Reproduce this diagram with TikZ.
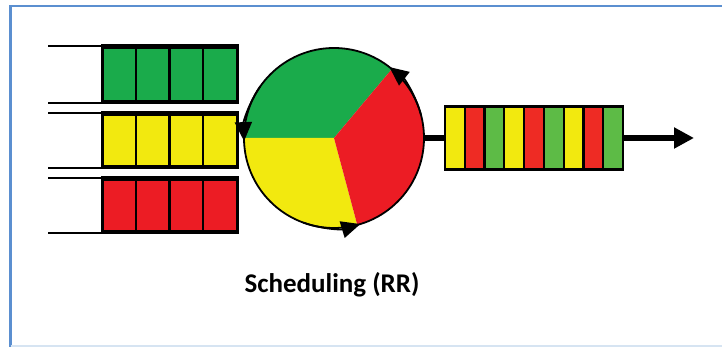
\documentclass[tikz,border=0pt]{standalone}
\usepackage{fontspec}
\setmainfont{Carlito}
\usetikzlibrary{arrows.meta}
\definecolor{qgreen}{HTML}{1AAB4B}
\definecolor{qyellow}{HTML}{F2E90F}
\definecolor{qred}{HTML}{EC1C24}
\definecolor{ogreen}{HTML}{5DBB46}
\definecolor{ored}{HTML}{EE2B24}
\definecolor{frameblue}{HTML}{5B8FD0}
\definecolor{framelight}{HTML}{D6E4F2}
\tikzset{
  qline/.style={line width=2.2pt, black},
  cell/.style={draw=black, line width=2.2pt},
  ringarrow/.style={line width=1.8pt, -{Triangle[length=19pt,width=17pt]}},
}
\begin{document}
\begin{tikzpicture}[x=1pt,y=1pt]
\useasboundingbox (0,0) rectangle (722,347);
% frame
\draw[frameblue, line width=2.2pt] (10.5,0) -- (10.5,341) -- (722,341);
\draw[framelight, line width=1.2pt] (10.5,1) -- (722,1);
% input queues
\foreach \yt/\yb/\col in {301/244/qgreen, 234/179/qyellow, 169/114/qred}{
  \draw[qline] (48,\yt) -- (237,\yt);
  \draw[qline] (48,\yb) -- (237,\yb);
  \foreach \i in {0,1,2,3}{
    \filldraw[cell, fill=\col] ({102+\i*33.75},\yb+1.5) rectangle ({102+(\i+1)*33.75},\yt-1.5);
  }
  \draw[line width=3pt] (102,\yb) rectangle (237,\yt);
}
% scheduler wheel
\coordinate (c) at (334,209);
\fill[qgreen] (c) -- ++(50:90) arc (50:180:90) -- cycle;
\fill[qyellow] (c) -- ++(180:90) arc (180:285:90) -- cycle;
\fill[qred] (c) -- ++(285:90) arc (285:410:90) -- cycle;
\node[circle, draw=black, line width=1.8pt, minimum size=180pt, inner sep=0pt, outer sep=0pt] (wheel) at (c) {};
\draw[ringarrow] (c) ++(145:90) arc (145:182:90);
\draw[ringarrow] (c) ++(15:90) arc (15:52:90);
\draw[ringarrow] (c) ++(250:90) arc (250:287:90);
% output queue
\node[minimum width=178pt, minimum height=63pt, inner sep=0pt, outer sep=0pt] (out) at (534,209) {};
\foreach \i/\col in {0/qyellow,1/ored,2/ogreen,3/qyellow,4/ored,5/ogreen,6/qyellow,7/ored,8/ogreen}{
  \filldraw[cell, fill=\col] ({445+\i*19.78},177.5) rectangle ({445+(\i+1)*19.78},240.5);
}
\draw[line width=2.8pt] (out.south west) rectangle (out.north east);
\coordinate (end) at (694,209);
\draw[line width=5.5pt] (wheel.east) -- (out.west);
\draw[line width=5.5pt, -{Triangle[length=20pt,width=20pt]}] (out.east) -- (end);
% caption
\node[font=\fontsize{27}{32}\selectfont\bfseries] (cap) at (332,62) {Scheduling (RR)};
\end{tikzpicture}
\end{document}
